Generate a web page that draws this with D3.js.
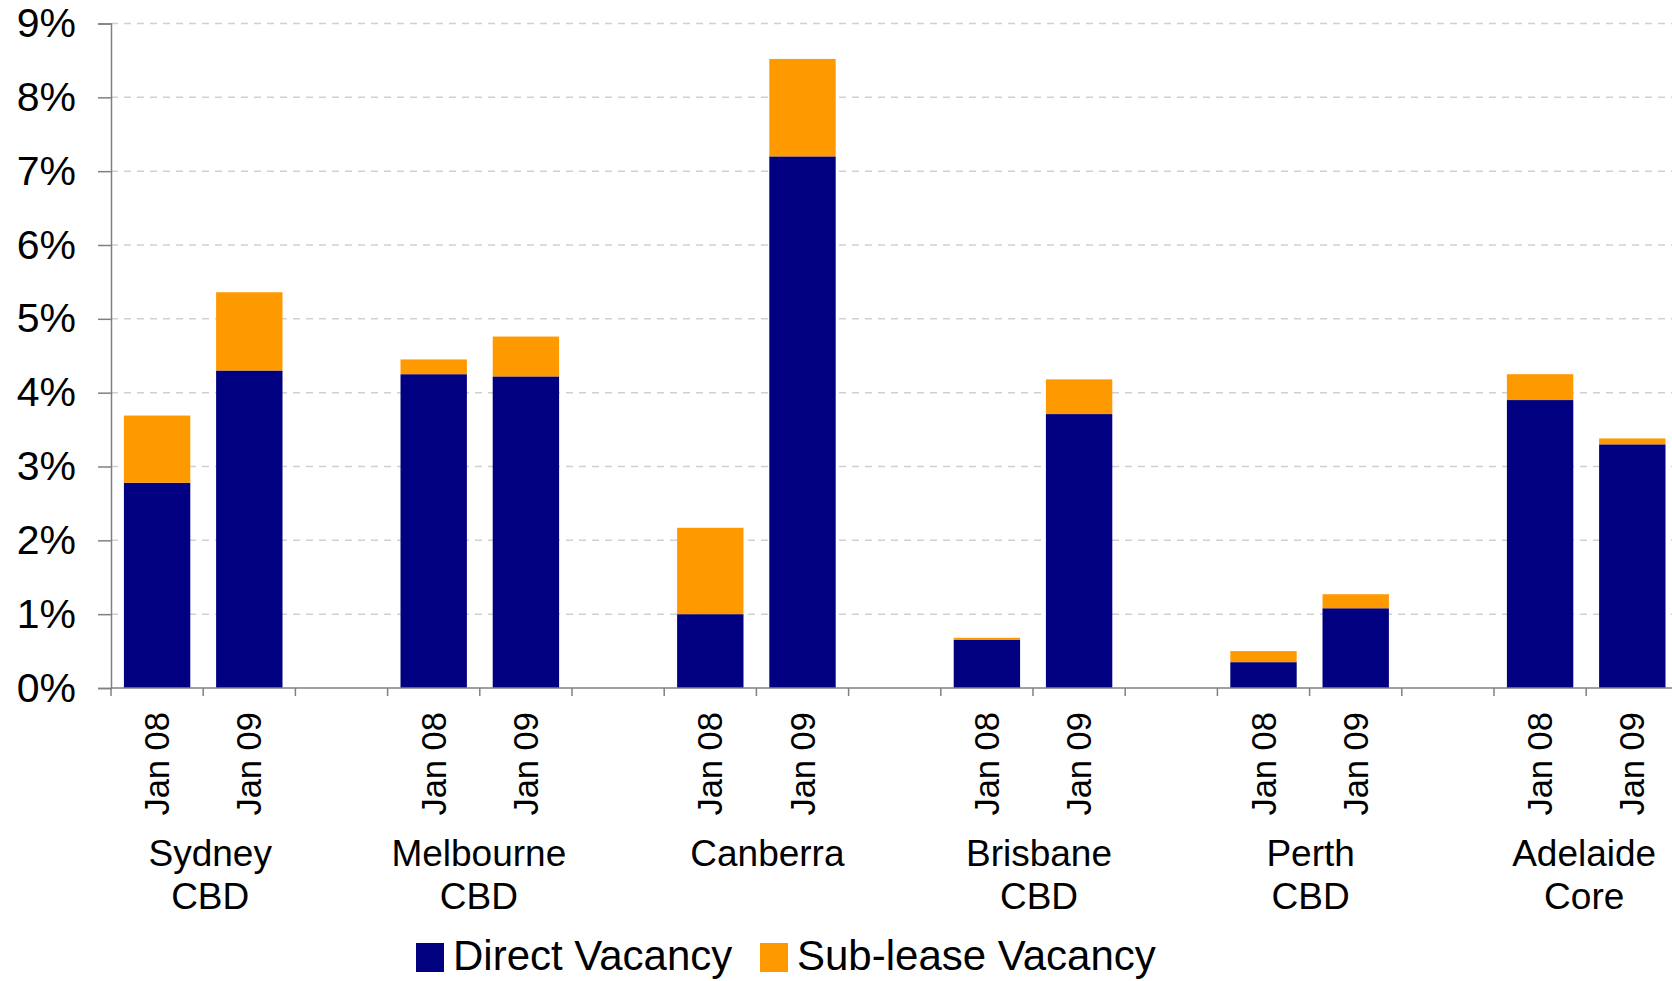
<!DOCTYPE html>
<html>
<head>
<meta charset="utf-8">
<script src="https://cdn.jsdelivr.net/npm/d3@7"></script>
<style>
  html, body { margin: 0; padding: 0; background: #fff; }
  svg { display: block; font-family: "Liberation Sans", Arial, sans-serif; }
</style>
</head>
<body>
<svg id="chart" width="1672" height="981"></svg>
<script>
// ---- data ----
const cities = ["Sydney CBD", "Melbourne CBD", "Canberra", "Brisbane CBD", "Perth CBD", "Adelaide Core"];
const cityLines = [["Sydney", "CBD"], ["Melbourne", "CBD"], ["Canberra"], ["Brisbane", "CBD"], ["Perth", "CBD"], ["Adelaide", "Core"]];
const periods = ["Jan 08", "Jan 09"];
const directJan08 = [2.78, 4.25, 1.00, 0.65, 0.35, 3.90];
const directJan09 = [4.30, 4.22, 7.20, 3.71, 1.08, 3.30];
const subleaseJan08 = [0.91, 0.20, 1.17, 0.03, 0.15, 0.35];
const subleaseJan09 = [1.06, 0.54, 1.32, 0.47, 0.19, 0.08];
const yTicks = [0, 1, 2, 3, 4, 5, 6, 7, 8, 9];
const seriesNames = ["Direct Vacancy", "Sub-lease Vacancy"];

// ---- layout / style (not data) ----
const colors = ["#000080", "#FF9900"];
const cityLabelNudge = [7, -1, 11, 6, 1, -2];

// table built from the arrays
const rows = [];
cities.forEach((c, i) => {
  rows.push({ city: c, period: "Jan 08", direct: directJan08[i], sub: subleaseJan08[i] });
  rows.push({ city: c, period: "Jan 09", direct: directJan09[i], sub: subleaseJan09[i] });
});

const svg = d3.select("#chart");
const left = 111, baseY = 688, topY = 23.5, slotW = 92.2;

const x0 = d3.scaleBand().domain(cities).range([left, left + cities.length * 3 * slotW]);
const x1 = d3.scaleBand().domain([...periods, "gap"]).range([0, x0.bandwidth()]);
const y = d3.scaleLinear().domain([0, 9]).range([baseY, topY]);

// gridlines
svg.append("g").selectAll("line").data(yTicks.filter(d => d > 0)).join("line")
  .attr("x1", left).attr("x2", 1672)
  .attr("y1", d => y(d)).attr("y2", d => y(d))
  .attr("stroke", "#d0d0d0").attr("stroke-width", 1.5)
  .attr("stroke-dasharray", "7,6");

// bars
const barW = x1.bandwidth() * 0.72;
const stack = d3.stack().keys(["direct", "sub"])(rows);
svg.append("g").selectAll("g").data(stack).join("g")
  .attr("fill", (d, i) => colors[i])
  .selectAll("rect").data(d => d).join("rect")
  .attr("x", d => x0(d.data.city) + x1(d.data.period) + (x1.bandwidth() - barW) / 2)
  .attr("width", barW)
  .attr("y", d => y(d[1]))
  .attr("height", d => y(d[0]) - y(d[1]));

// y axis
const yAxis = svg.append("g").attr("transform", `translate(${left},0)`)
  .call(d3.axisLeft(y).tickValues(yTicks).tickSize(13).tickPadding(22).tickFormat(d => d + "%"));
yAxis.select(".domain").attr("stroke", "#808080").attr("stroke-width", 1.5);
yAxis.selectAll(".tick line").attr("stroke", "#808080").attr("stroke-width", 1.5);
yAxis.selectAll(".tick text").attr("font-size", 41).attr("fill", "#000")
  .attr("font-family", "Liberation Sans, Arial, sans-serif");

// x axis baseline and slot ticks
const slotEdges = [];
cities.forEach(c => {
  x1.domain().forEach(p => slotEdges.push(x0(c) + x1(p)));
});
svg.append("line").attr("x1", left).attr("x2", 1672).attr("y1", baseY).attr("y2", baseY)
  .attr("stroke", "#808080").attr("stroke-width", 1.5);
svg.append("g").selectAll("line").data(slotEdges).join("line")
  .attr("x1", d => d).attr("x2", d => d).attr("y1", baseY).attr("y2", baseY + 8)
  .attr("stroke", "#808080").attr("stroke-width", 1.5);

// period labels (rotated)
svg.append("g").selectAll("text").data(rows).join("text")
  .attr("transform", d => `translate(${x0(d.city) + x1(d.period) + x1.bandwidth() / 2 + 12},712) rotate(-90)`)
  .attr("text-anchor", "end")
  .attr("font-size", 34.5)
  .attr("fill", "#000")
  .text(d => d.period);

// city labels
const cityG = svg.append("g").selectAll("text").data(cities).join("text")
  .attr("x", (d, i) => x0(d) + x1.bandwidth() + cityLabelNudge[i])
  .attr("y", 866)
  .attr("text-anchor", "middle")
  .attr("font-size", 37)
  .attr("fill", "#000");
cityG.selectAll("tspan").data((d, i) => cityLines[i]).join("tspan")
  .attr("x", function() { return d3.select(this.parentNode).attr("x"); })
  .attr("dy", (d, i) => i === 0 ? 0 : 43)
  .text(d => d);

// legend
const legend = svg.append("g");
const legendX = [416, 760];
seriesNames.forEach((name, i) => {
  legend.append("rect").attr("x", legendX[i]).attr("y", 943).attr("width", 28).attr("height", 29)
    .attr("fill", colors[i]);
  legend.append("text").attr("x", legendX[i] + 37).attr("y", 970)
    .attr("font-size", 42).attr("fill", "#000").text(name);
});
</script>
</body>
</html>
